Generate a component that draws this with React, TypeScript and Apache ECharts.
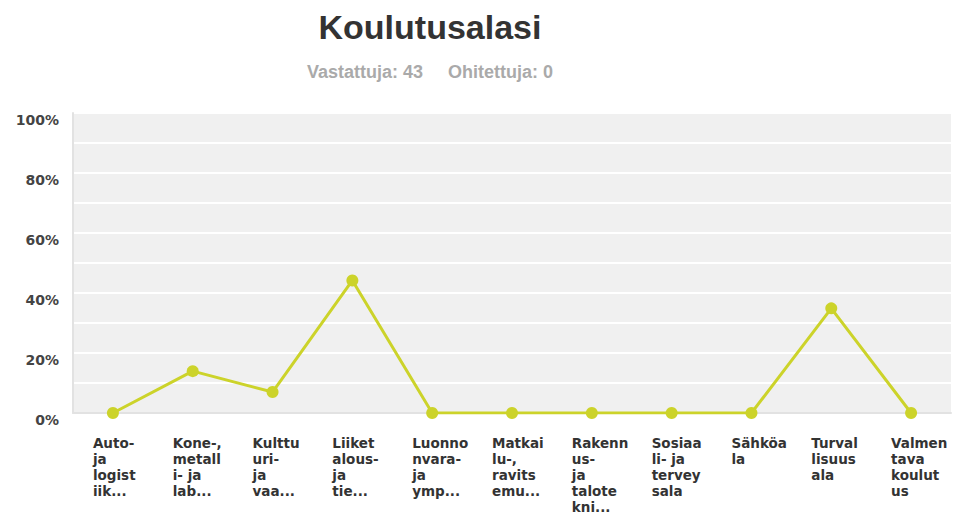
import React, { useEffect, useRef } from "react";
import * as echarts from "echarts";

const titleText = "Koulutusalasi";
const answeredLabel = "Vastattuja: 43";
const skippedLabel = "Ohitettuja: 0";
const totalAnswered = 43;

const categories: string[] = [
  "Auto-\nja\nlogist\niik...",
  "Kone-,\nmetall\ni- ja\nlab...",
  "Kulttu\nuri-\nja\nvaa...",
  "Liiket\nalous-\nja\ntie...",
  "Luonno\nnvara-\nja\nymp...",
  "Matkai\nlu-,\nravits\nemu...",
  "Rakenn\nus-\nja\ntalote\nkni...",
  "Sosiaa\nli- ja\ntervey\nsala",
  "Sähköa\nla",
  "Turval\nlisuus\nala",
  "Valmen\ntava\nkoulut\nus",
];

const counts: number[] = [0, 6, 3, 19, 0, 0, 0, 0, 0, 15, 0];

const yTicks: number[] = [0, 20, 40, 60, 80, 100];

export default function App() {
  const ref = useRef<HTMLDivElement>(null);
  useEffect(() => {
    if (!ref.current) return;
    const chart = echarts.init(ref.current, undefined, { renderer: "svg" });
    const values = counts.map((c) => (c / totalAnswered) * 100);
    chart.setOption({
      animation: false,
      backgroundColor: "#ffffff",
      graphic: [
        {
          type: "text",
          x: 430,
          y: 27,
          style: {
            text: titleText,
            textAlign: "center",
            textVerticalAlign: "middle",
            fontFamily: "Liberation Sans, Arial, sans-serif",
            fontWeight: "bold",
            fontSize: 34,
            fill: "#333333",
          },
        },
        {
          type: "text",
          x: 423,
          y: 72,
          style: {
            text: answeredLabel,
            textAlign: "right",
            textVerticalAlign: "middle",
            fontFamily: "Liberation Sans, Arial, sans-serif",
            fontWeight: "bold",
            fontSize: 18,
            fill: "#aaaaaa",
          },
        },
        {
          type: "text",
          x: 448,
          y: 72,
          style: {
            text: skippedLabel,
            textAlign: "left",
            textVerticalAlign: "middle",
            fontFamily: "Liberation Sans, Arial, sans-serif",
            fontWeight: "bold",
            fontSize: 18,
            fill: "#aaaaaa",
          },
        },
      ],
      grid: {
        left: 73,
        right: 7,
        top: 113,
        bottom: 112,
        show: true,
        backgroundColor: "#f0f0f0",
        borderWidth: 0,
      },
      xAxis: {
        type: "category",
        data: categories,
        boundaryGap: true,
        axisLine: { show: true, lineStyle: { color: "#e2e2e2", width: 2 } },
        axisTick: { show: false },
        splitLine: { show: false },
        axisLabel: {
          interval: 0,
          hideOverlap: false,
          margin: 22,
          align: "center",
          verticalAlign: "top",
          formatter: (v: string) =>
            v
              .split("\n")
              .map((l) => `{a|${l}}`)
              .join("\n"),
          rich: {
            a: {
              width: 40,
              align: "left",
              fontFamily: "DejaVu Sans, Verdana, sans-serif",
              fontWeight: "bold",
              fontSize: 13.5,
              lineHeight: 16,
              color: "#333333",
            },
          },
        },
      },
      yAxis: {
        type: "value",
        min: 0,
        max: 100,
        interval: 10,
        axisLine: { show: true, lineStyle: { color: "#e2e2e2", width: 2 } },
        axisTick: { show: false },
        splitLine: { show: true, lineStyle: { color: "#ffffff", width: 2 } },
        axisLabel: {
          margin: 14,
          verticalAlign: "top",
          fontFamily: "DejaVu Sans, Verdana, sans-serif",
          fontWeight: "bold",
          fontSize: 14,
          color: "#444444",
          formatter: (v: number) => (yTicks.includes(v) ? `${v}%` : ""),
        },
      },
      series: [
        {
          type: "line",
          data: values,
          symbol: "circle",
          symbolSize: 12,
          lineStyle: { color: "#ccd32a", width: 3 },
          itemStyle: { color: "#ccd32a" },
        },
      ],
    });
    return () => chart.dispose();
  }, []);
  return (
    <div
      ref={ref}
      style={{ position: "absolute", left: 0, top: 0, width: 958, height: 525 }}
    />
  );
}
